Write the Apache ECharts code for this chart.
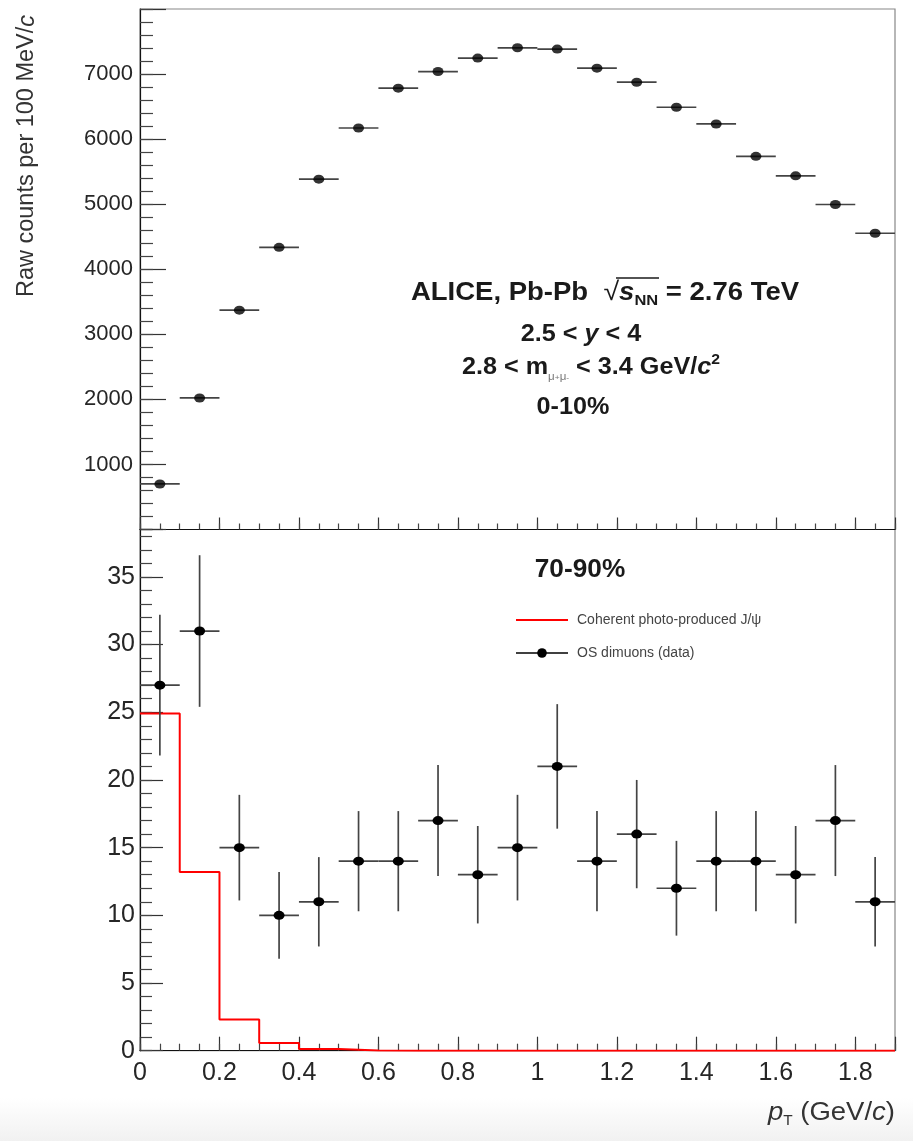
<!DOCTYPE html>
<html>
<head>
<meta charset="utf-8">
<title>J/psi candidates vs pT, Pb-Pb 2.76 TeV</title>
<script src="https://cdn.jsdelivr.net/npm/echarts@6/dist/echarts.min.js"></script>
<style>
  html, body { margin: 0; padding: 0; background: #fff; }
  #chart { width: 913px; height: 1141px; }
</style>
</head>
<body>
<div id="chart"></div>
<script>
// pT bin edges (GeV/c), 100 MeV/c wide
const ptBinEdges = [0, 0.1, 0.2, 0.3, 0.4, 0.5, 0.6, 0.7, 0.8, 0.9, 1.0,
                    1.1, 1.2, 1.3, 1.4, 1.5, 1.6, 1.7, 1.8, 1.9];

// 0-10% centrality: raw opposite-sign dimuon counts per bin
const rawCounts0to10 = [700, 2022, 3371, 4337, 5385, 6171, 6783, 7039, 7245, 7404,
                        7384, 7091, 6875, 6490, 6233, 5735, 5436, 4995, 4553];

// 70-90% centrality: raw counts and statistical errors per bin
const rawCounts70to90 = [27, 31, 15, 10, 11, 14, 14, 17, 13, 15,
                         21, 14, 16, 12, 14, 14, 13, 17, 11];
const statErr70to90 = [5.2, 5.6, 3.9, 3.2, 3.3, 3.7, 3.7, 4.1, 3.6, 3.9,
                       4.6, 3.7, 4.0, 3.5, 3.7, 3.7, 3.6, 4.1, 3.3];

// Coherent photo-produced J/psi expectation per bin (70-90%)
const coherentJpsi = [24.9, 13.2, 2.3, 0.57, 0.12, 0.02, 0, 0, 0, 0,
                      0, 0, 0, 0, 0, 0, 0, 0, 0];

const FONT = '"Liberation Sans", Arial, Helvetica, sans-serif';
const INK = '#262626';
const BAR = '#444';

const nBins = ptBinEdges.length - 1;
const binLo = ptBinEdges.slice(0, nBins);
const binHi = ptBinEdges.slice(1);
const binCenter = binLo.map((lo, i) => (lo + binHi[i]) / 2);

// [lo, hi, value, low end of vertical bar, high end of vertical bar]
const topBars = rawCounts0to10.map((v, i) => [binLo[i], binHi[i], v, v, v]);
const botBars = rawCounts70to90.map((v, i) => [binLo[i], binHi[i], v, v - statErr70to90[i], v + statErr70to90[i]]);
const topPoints = rawCounts0to10.map((v, i) => [binCenter[i], v]);
const botPoints = rawCounts70to90.map((v, i) => [binCenter[i], v]);
const coherentSteps = coherentJpsi.map((v, i) => [binLo[i], v])
  .concat([[binHi[nBins - 1], coherentJpsi[nBins - 1]]]);

// horizontal bin-width bar plus optional vertical error bar
function errorBarItem(params, api) {
  const lo = api.value(0), hi = api.value(1), v = api.value(2);
  const eLo = api.value(3), eHi = api.value(4);
  const a = api.coord([lo, v]);
  const b = api.coord([hi, v]);
  const style = { stroke: BAR, lineWidth: 1.7 };
  const children = [{ type: 'line', shape: { x1: a[0], y1: a[1], x2: b[0], y2: b[1] }, style }];
  if (eHi > eLo) {
    const xm = (lo + hi) / 2;
    const c = api.coord([xm, eLo]);
    const d = api.coord([xm, eHi]);
    children.push({ type: 'line', shape: { x1: c[0], y1: c[1], x2: d[0], y2: d[1] }, style });
  }
  return { type: 'group', children };
}

const fmtX = v => {
  const r = Math.round(v * 10) / 10;
  if (Math.abs(v / 0.2 - Math.round(v / 0.2)) > 1e-6 || v > 1.85) return '';
  return String(r);
};

function xAxisPair(gridIndex, showLabels, majorLen, minorLen) {
  return [
    {
      gridIndex, type: 'value', position: 'bottom', min: 0, max: 1.9, interval: 0.2,
      axisLine: { show: true, onZero: false, lineStyle: { color: '#111', width: 1.2 } },
      axisTick: { show: true, inside: true, length: majorLen, lineStyle: { color: '#333', width: 1.2 } },
      axisLabel: { show: showLabels, formatter: fmtX, fontSize: 25, color: INK, fontFamily: FONT, margin: 10 },
      splitLine: { show: false }
    },
    {
      gridIndex, type: 'value', position: 'bottom', min: 0, max: 1.9, interval: 0.05,
      axisLine: { show: false },
      axisTick: { show: true, inside: true, length: minorLen, lineStyle: { color: '#444', width: 1.2 } },
      axisLabel: { show: false },
      splitLine: { show: false }
    }
  ];
}

function yAxisPair(gridIndex, max, major, minor, majorLen, minorLen, fontSize, margin, fmt) {
  return [
    {
      gridIndex, type: 'value', position: 'left', min: 0, max, interval: major,
      axisLine: { show: true, onZero: false, lineStyle: { color: '#111', width: 1.2 } },
      axisTick: { show: true, inside: true, length: majorLen, lineStyle: { color: '#333', width: 1.2 } },
      axisLabel: { show: true, formatter: fmt, fontSize, color: INK, fontFamily: FONT, margin },
      splitLine: { show: false }
    },
    {
      gridIndex, type: 'value', position: 'left', min: 0, max, interval: minor,
      axisLine: { show: false },
      axisTick: { show: true, inside: true, length: minorLen, lineStyle: { color: '#444', width: 1.2 } },
      axisLabel: { show: false },
      splitLine: { show: false }
    }
  ];
}

const chart = echarts.init(document.getElementById('chart'), null, { renderer: 'canvas' });

const boldText = (size) => ({ fontSize: size, fontWeight: 'bold', fontFamily: FONT, fill: '#1a1a1a', lineHeight: 30 });

chart.setOption({
  animation: false,
  backgroundColor: '#fff',
  grid: [
    { left: 140, top: 9, width: 755, height: 520.5, show: true, borderColor: '#888', borderWidth: 1.2, backgroundColor: 'transparent' },
    { left: 140, top: 529.5, width: 755, height: 521.2, show: true, borderColor: '#888', borderWidth: 1.2, backgroundColor: 'transparent' }
  ],
  xAxis: [].concat(xAxisPair(0, false, 12, 6), xAxisPair(1, true, 14, 7)),
  yAxis: [].concat(
    yAxisPair(0, 8000, 1000, 200, 26, 13, 22, 7, v => (v > 0 && v < 8000 && v % 1000 === 0) ? String(v) : ''),
    yAxisPair(1, 38.5, 5, 1, 23, 12, 25, 5, v => (v % 5 === 0 && v <= 35) ? String(v) : '')
  ),
  legend: {
    orient: 'vertical', left: 510, top: 608,
    itemWidth: 52, itemHeight: 12, itemGap: 19,
    selectedMode: false,
    textStyle: { fontSize: 14, color: '#444', fontFamily: FONT, padding: [0, 0, 0, 4] },
    data: [
      { name: 'Coherent photo-produced J/ψ', itemStyle: { opacity: 0 } },
      { name: 'OS dimuons (data)', lineStyle: { opacity: 1, color: '#000', width: 1.5 } }
    ]
  },
  series: [
    {
      type: 'custom', name: 'bins 0-10%', xAxisIndex: 0, yAxisIndex: 0,
      renderItem: errorBarItem, data: topBars,
      encode: { x: [0, 1], y: [2, 3, 4] }, z: 3
    },
    {
      type: 'scatter', name: '0-10%', xAxisIndex: 0, yAxisIndex: 0,
      data: topPoints, symbol: 'circle', symbolSize: [11, 9],
      itemStyle: { color: '#000' }, z: 4
    },
    {
      type: 'line', name: 'Coherent photo-produced J/ψ', xAxisIndex: 2, yAxisIndex: 2,
      data: coherentSteps, step: 'end', symbol: 'none',
      lineStyle: { color: '#ff0000', width: 2 }, z: 3
    },
    {
      type: 'custom', name: 'bins 70-90%', xAxisIndex: 2, yAxisIndex: 2,
      renderItem: errorBarItem, data: botBars,
      encode: { x: [0, 1], y: [2, 3, 4] }, z: 4
    },
    {
      type: 'line', name: 'OS dimuons (data)', xAxisIndex: 2, yAxisIndex: 2,
      data: botPoints, symbol: 'circle', symbolSize: [11, 9], showAllSymbol: true,
      lineStyle: { opacity: 0 }, itemStyle: { color: '#000' }, z: 5
    }
  ],
  graphic: [
    // soft grey fade along the bottom edge
    {
      type: 'rect', z: -10, silent: true,
      shape: { x: 0, y: 1098, width: 913, height: 43 },
      style: { fill: new echarts.graphic.LinearGradient(0, 0, 0, 1, [
        { offset: 0, color: '#ffffff' }, { offset: 1, color: '#f1f1f1' }]) }
    },
    // y-axis title
    {
      type: 'text', x: 27, y: 156, rotation: Math.PI / 2,
      style: {
        text: '{n|Raw counts per 100 MeV/}{i|c}',
        align: 'center', verticalAlign: 'middle',
        rich: {
          n: { fontSize: 23.5, fontFamily: FONT, fill: '#333' },
          i: { fontSize: 23.5, fontFamily: FONT, fontStyle: 'italic', fill: '#333' }
        }
      }
    },
    // x-axis title
    {
      type: 'text', x: 895, y: 1113, scaleX: 1.1,
      style: {
        text: '{i|p}{s|T}{n| (GeV/}{i|c}{n|)}',
        align: 'right', verticalAlign: 'middle',
        rich: {
          n: { fontSize: 25, fontFamily: FONT, fill: '#333', lineHeight: 30 },
          i: { fontSize: 25, fontFamily: FONT, fontStyle: 'italic', fill: '#333', lineHeight: 30 },
          s: { fontSize: 14, fontFamily: FONT, fill: '#333', lineHeight: 12, verticalAlign: 'bottom' }
        }
      }
    },
    // experiment / system label
    {
      type: 'text', x: 605, y: 293, scaleX: 1.1,
      style: {
        text: '{b|ALICE, Pb-Pb  }{r|√}{i|s}{s|NN}{b| = 2.76 TeV}',
        align: 'center', verticalAlign: 'middle',
        rich: {
          b: boldText(25),
          r: { fontSize: 26, fontFamily: FONT, fill: '#1a1a1a', lineHeight: 30 },
          i: Object.assign(boldText(25), { fontStyle: 'italic' }),
          s: { fontSize: 15, fontWeight: 'bold', fontFamily: FONT, fill: '#1a1a1a', lineHeight: 14, verticalAlign: 'bottom' }
        }
      }
    },
    // radical bar over s_NN
    {
      type: 'line', silent: true,
      shape: { x1: 616, y1: 278, x2: 659, y2: 278 },
      style: { stroke: '#1a1a1a', lineWidth: 1.5 }
    },
    {
      type: 'text', x: 581, y: 334, scaleX: 1.05,
      style: {
        text: '{b|2.5 < }{i|y}{b| < 4}',
        align: 'center', verticalAlign: 'middle',
        rich: { b: boldText(24), i: Object.assign(boldText(24), { fontStyle: 'italic' }) }
      }
    },
    {
      type: 'text', x: 591, y: 367, scaleX: 1.05,
      style: {
        text: '{b|2.8 < m}{u|μ}{p|+}{u|μ}{p|-}{b| < 3.4 GeV/}{i|c}{t|2}',
        align: 'center', verticalAlign: 'middle',
        rich: {
          b: boldText(24),
          i: Object.assign(boldText(24), { fontStyle: 'italic' }),
          u: { fontSize: 11, fontFamily: FONT, fill: '#777', lineHeight: 10, verticalAlign: 'bottom' },
          p: { fontSize: 8, fontFamily: FONT, fill: '#777', lineHeight: 18, verticalAlign: 'bottom' },
          t: { fontSize: 15, fontWeight: 'bold', fontFamily: FONT, fill: '#1a1a1a', lineHeight: 14, verticalAlign: 'top' }
        }
      }
    },
    {
      type: 'text', x: 573, y: 407, scaleX: 1.05,
      style: { text: '0-10%', align: 'center', verticalAlign: 'middle', fontSize: 24, fontWeight: 'bold', fontFamily: FONT, fill: '#1a1a1a' }
    },
    {
      type: 'text', x: 580, y: 570, scaleX: 1.05,
      style: { text: '70-90%', align: 'center', verticalAlign: 'middle', fontSize: 25, fontWeight: 'bold', fontFamily: FONT, fill: '#1a1a1a' }
    }
  ]
});
</script>
</body>
</html>
